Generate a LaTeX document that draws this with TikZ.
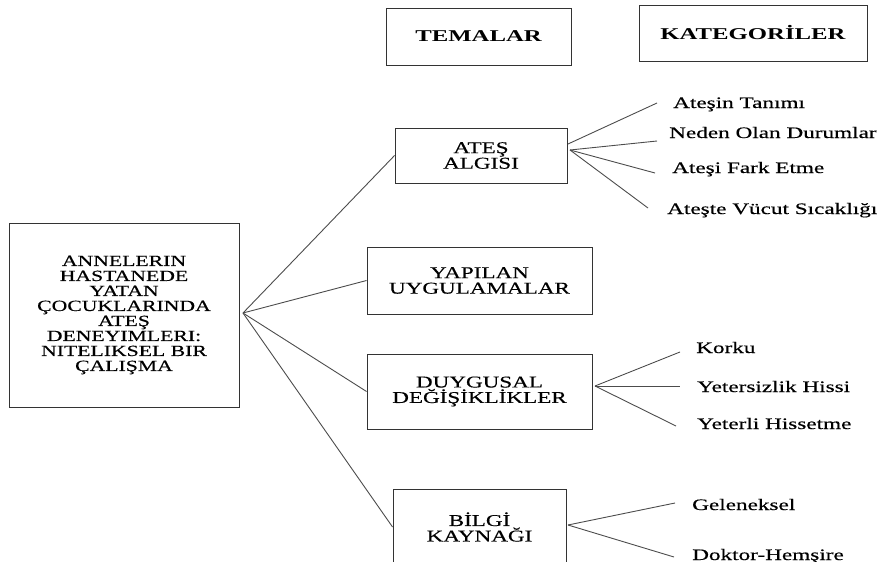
\documentclass[tikz,border=0pt]{standalone}
\usepackage{fontspec}
\setmainfont{Liberation Serif}
\newfontfamily\boxfont[FakeStretch=1.4,FakeBold=0.4]{Liberation Serif}
\newfontfamily\catfont[FakeStretch=1.45,FakeBold=0.4]{Liberation Serif}
\newfontfamily\headfont[FakeStretch=1.5]{Liberation Serif}
\begin{document}
\begin{tikzpicture}[x=1pt,y=-1pt,
  box/.style={draw=black!80, line width=0.9pt, inner sep=0pt, align=center,
    font=\boxfont\fontsize{16.5}{15.5}\selectfont},
  mainbox/.style={box, font=\boxfont\fontsize{15.5}{15}\selectfont},
  headbox/.style={box, font=\headfont\bfseries\fontsize{16.5}{15}\selectfont},
  cat/.style={anchor=base west, inner sep=0pt, font=\catfont\fontsize{16}{16}\selectfont},
  conn/.style={draw=black!70, line width=0.9pt}]
\useasboundingbox (0,0) rectangle (881,562);

% headers
\node[headbox, minimum width=185pt, minimum height=57pt] (tem) at (478.5,36.5) {TEMALAR};
\node[headbox, minimum width=228pt, minimum height=56pt] (kat) at (753,33) {KATEGORİLER};

% main box
\node[mainbox, minimum width=230pt, minimum height=184pt] (main) at (124,315)
  {ANNELERIN\\HASTANEDE\\YATAN\\ÇOCUKLARINDA\\ATEŞ\\DENEYIMLERI:\\NITELIKSEL BIR\\ÇALIŞMA};

% theme boxes
\node[box, minimum width=172pt, minimum height=55pt] (ates) at (481,155.5) {ATEŞ\\ALGISI};
\node[box, minimum width=225pt, minimum height=67pt] (yap) at (479.5,280.5) {YAPILAN\\UYGULAMALAR};
\node[box, minimum width=225pt, minimum height=75pt] (duy) at (479.5,391.5) {DUYGUSAL\\DEĞİŞİKLİKLER};
\node[box, minimum width=173pt, minimum height=76pt] (bil) at (479.5,527) {BİLGİ\\KAYNAĞI};

% hubs
\coordinate (hub) at (243,313);
\coordinate (aR1) at (568,144);
\coordinate (aR) at (570,150);
\coordinate (dR) at (595,386);
\coordinate (bR) at (568,525);

% main connectors
\draw[conn] (hub) -- (ates.west);
\draw[conn] (hub) -- (yap.west);
\draw[conn] (hub) -- (duy.west);
\draw[conn] (hub) -- (bil.west);

% category labels
\node[cat] (c1) at (673,108) {Ateşin Tanımı};
\node[cat] (c2) at (669,138) {Neden Olan Durumlar};
\node[cat] (c3) at (672,173) {Ateşi Fark Etme};
\node[cat] (c4) at (667,214) {Ateşte Vücut Sıcaklığı};
\node[cat] (c5) at (696,353) {Korku};
\node[cat] (c6) at (697,392) {Yetersizlik Hissi};
\node[cat] (c7) at (697,429) {Yeterli Hissetme};
\node[cat] (c8) at (692,510) {Geleneksel};
\node[cat] (c9) at (692,560) {Doktor-Hemşire};

% line ends
\coordinate (e1) at (657,103);
\coordinate (e2) at (657,141);
\coordinate (e3) at (655,173);
\coordinate (e4) at (648,208);
\coordinate (e5) at (680,352);
\coordinate (e6) at (680,386);
\coordinate (e7) at (676,426);
\coordinate (e8) at (675,503);
\coordinate (e9) at (674,557);

\draw[conn] (aR1) -- (e1);
\draw[conn] (aR) -- (e2);
\draw[conn] (aR) -- (e3);
\draw[conn] (aR) -- (e4);
\draw[conn] (dR) -- (e5);
\draw[conn] (dR) -- (e6);
\draw[conn] (dR) -- (e7);
\draw[conn] (bR) -- (e8);
\draw[conn] (bR) -- (e9);
\end{tikzpicture}
\end{document}
